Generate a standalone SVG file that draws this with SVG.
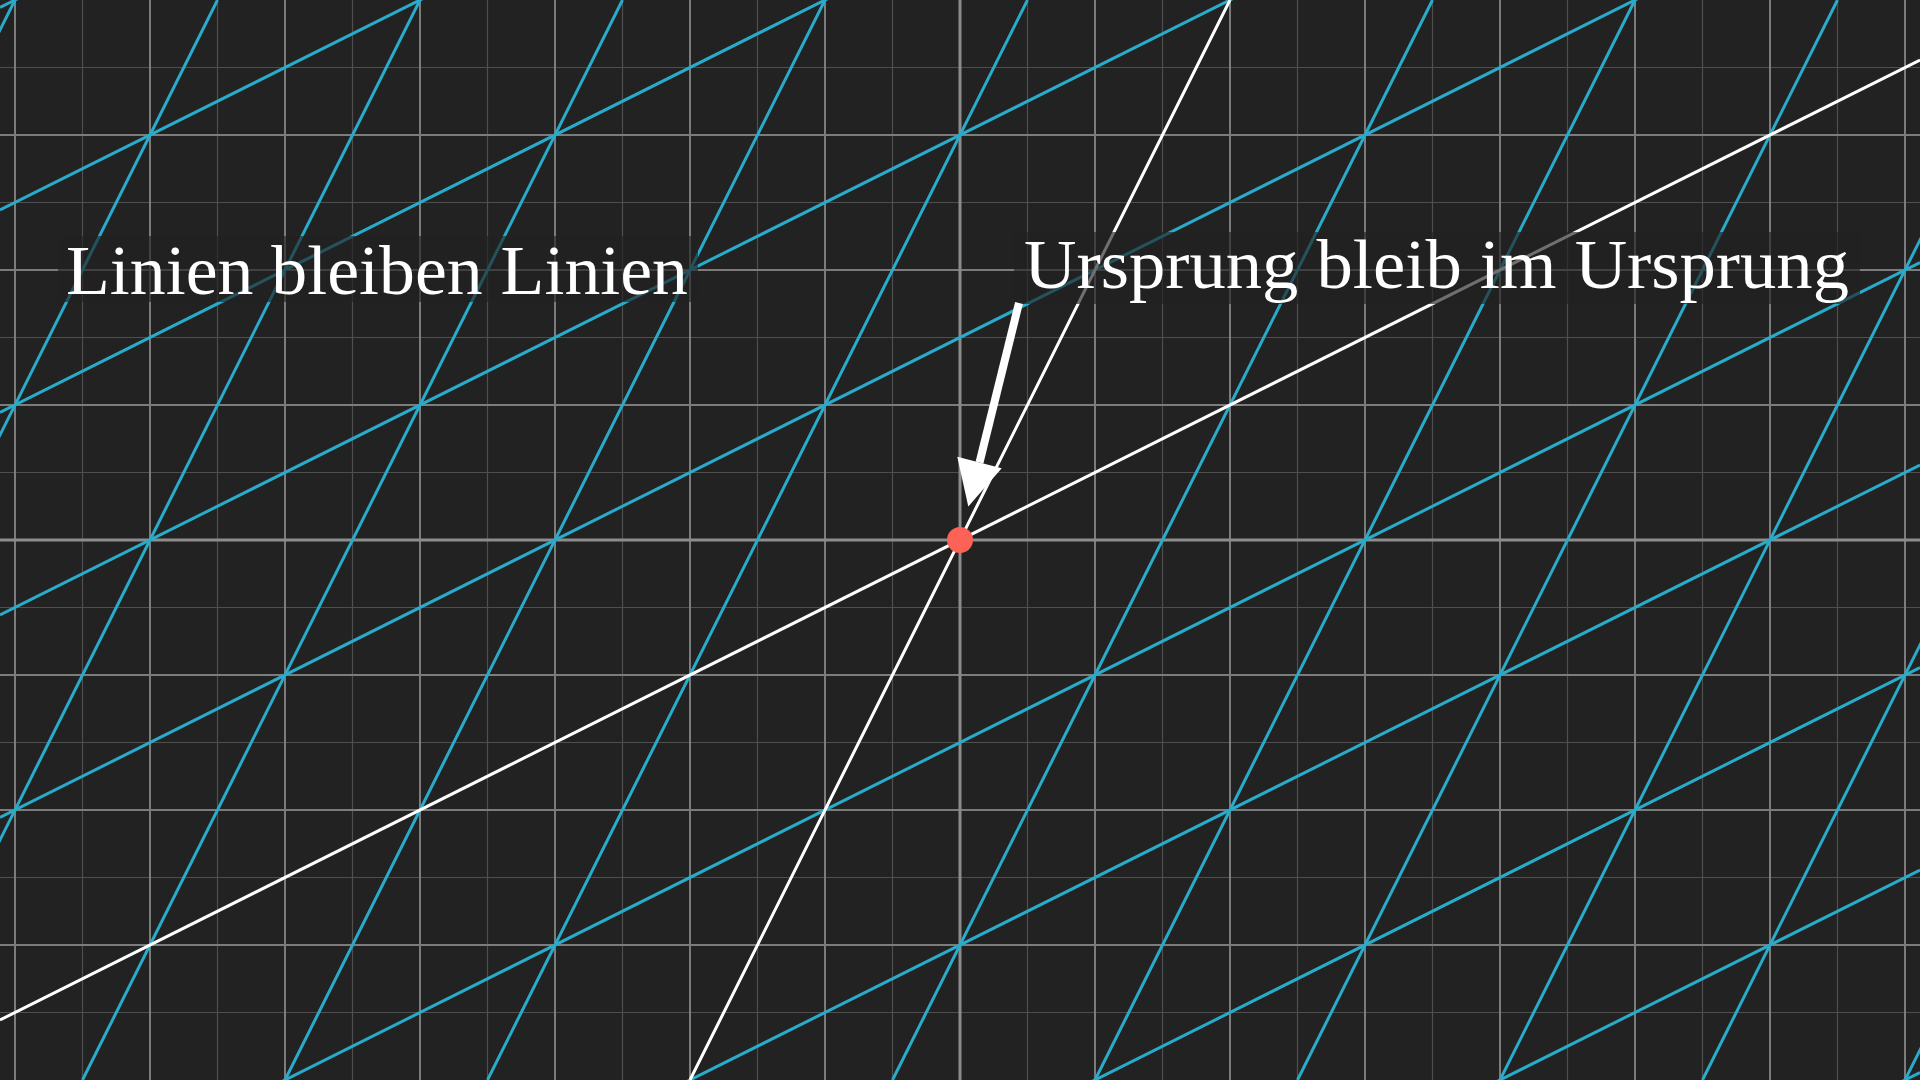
<svg xmlns="http://www.w3.org/2000/svg" width="1920" height="1080" viewBox="0 0 1920 1080">
<style>
.minor{stroke:#4f4f4f;stroke-width:1.2;fill:none}
.major{stroke:#7c7c7c;stroke-width:2;fill:none}
.axis{stroke:#8c8c8c;stroke-width:3;fill:none}
.blue{stroke:#29ABCA;stroke-width:3;fill:none}
.white{stroke:#ffffff;stroke-width:3;fill:none}
.dim{fill:#222222;opacity:0.65}
.label{font-family:"Liberation Serif","DejaVu Serif",serif;font-size:69px;fill:#ffffff}
</style>
<rect x="0" y="0" width="1920" height="1080" fill="#222222"/>
<g id="grid">
<path class="minor" d="M82.5 0V1080M217.5 0V1080M352.5 0V1080M487.5 0V1080M622.5 0V1080M757.5 0V1080M892.5 0V1080M1027.5 0V1080M1162.5 0V1080M1297.5 0V1080M1432.5 0V1080M1567.5 0V1080M1702.5 0V1080M1837.5 0V1080M0 67.5H1920M0 202.5H1920M0 337.5H1920M0 472.5H1920M0 607.5H1920M0 742.5H1920M0 877.5H1920M0 1012.5H1920"/>
<path class="major" d="M15 0V1080M150 0V1080M285 0V1080M420 0V1080M555 0V1080M690 0V1080M825 0V1080M1095 0V1080M1230 0V1080M1365 0V1080M1500 0V1080M1635 0V1080M1770 0V1080M1905 0V1080M0 135H1920M0 270H1920M0 405H1920M0 675H1920M0 810H1920M0 945H1920"/>
<path class="axis" d="M960 0V1080M0 540H1920"/>
</g>
<g id="connectors">
<path class="blue" d="M0 7.5L1920 -952.5M0 210L1920 -750M0 412.5L1920 -547.5M0 615L1920 -345M0 817.5L1920 -142.5M0 1222.5L1920 262.5M0 1425L1920 465M0 1627.5L1920 667.5M0 1830L1920 870M0 2032.5L1920 1072.5"/>
<path class="blue" d="M15 0L-525 1080M217.5 0L-322.5 1080M420 0L-120 1080M622.5 0L82.5 1080M825 0L285 1080M1027.5 0L487.5 1080M1432.5 0L892.5 1080M1635 0L1095 1080M1837.5 0L1297.5 1080M2040 0L1500 1080M2242.5 0L1702.5 1080M2445 0L1905 1080"/>
<path class="white" d="M0 1020L1920 60M1230 0L690 1080"/>
</g>
<g id="label-lines">
<rect class="dim" x="58" y="236" width="640" height="66"/>
<text class="label" x="66" y="294" textLength="622" lengthAdjust="spacingAndGlyphs">Linien bleiben Linien</text>
</g>
<g id="label-origin">
<rect class="dim" x="1014" y="232" width="846" height="72"/>
<text class="label" x="1024" y="288" textLength="825" lengthAdjust="spacingAndGlyphs">Ursprung bleib im Ursprung</text>
</g>
<g id="arrow">
<line x1="1019" y1="303" x2="979.5" y2="462.5" stroke="#ffffff" stroke-width="8"/>
<polygon points="957.3,456.7 1001.7,468.3 968.3,506.5" fill="#ffffff"/>
</g>
<g id="origin">
<circle cx="960" cy="540" r="13" fill="#FC6255"/>
</g>
</svg>
